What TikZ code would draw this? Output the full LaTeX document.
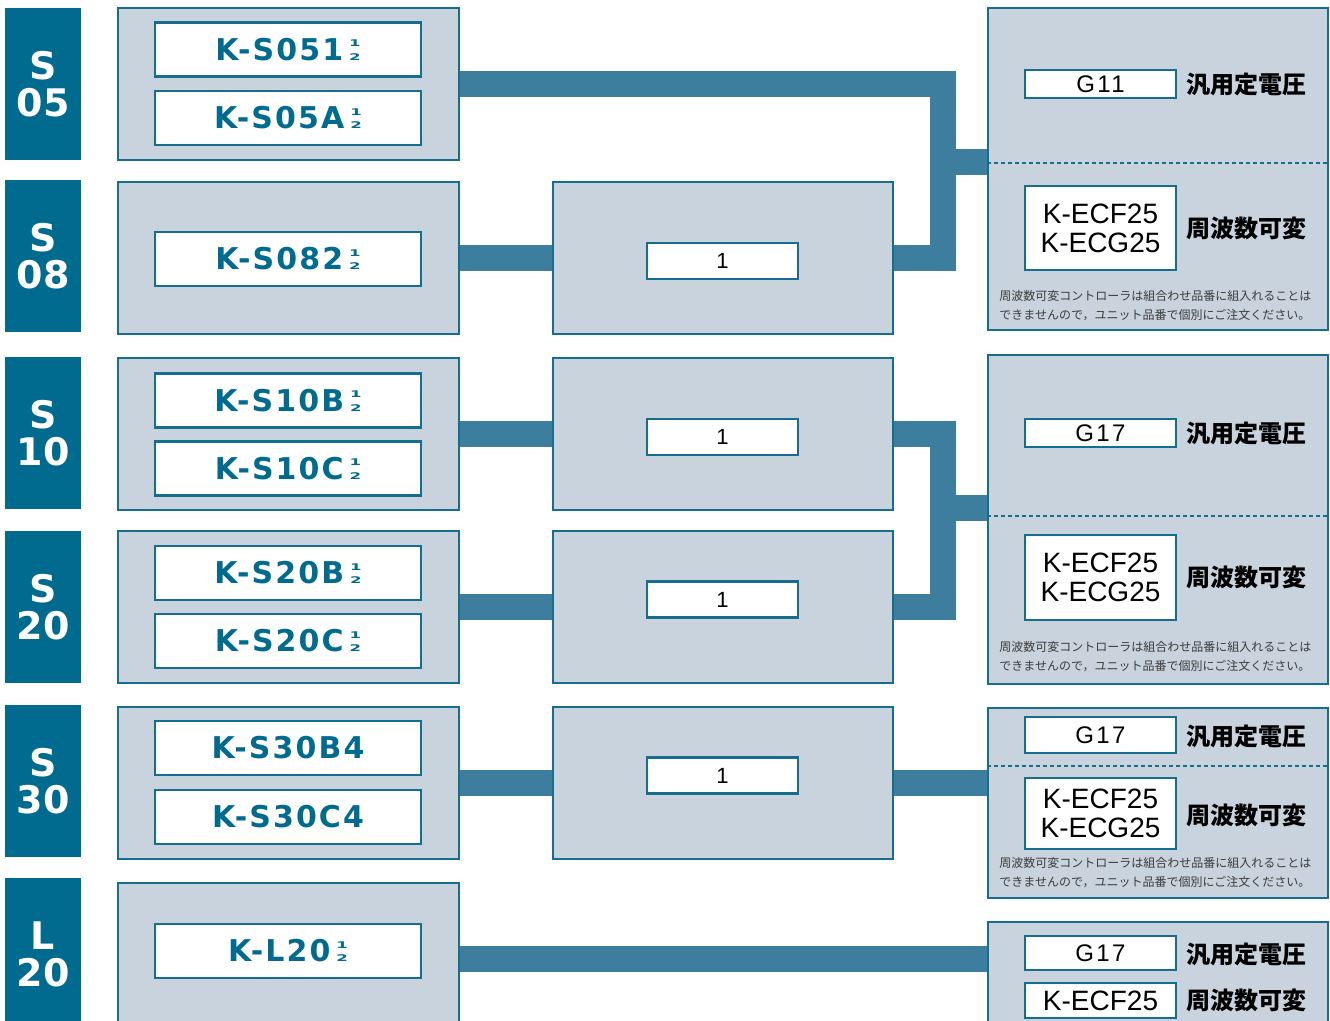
\documentclass[tikz,border=0pt]{standalone}
\usepackage{graphicx}
\usepackage{fontspec}
\setmainfont{Liberation Sans}
\newfontfamily\partfont{DejaVu Sans}[LetterSpace=7]
\newfontfamily\tabfont{DejaVu Sans}
\newfontfamily\spacedfont{Liberation Sans}[LetterSpace=10]
\newfontfamily\jpfont{Noto Sans CJK JP}
\usetikzlibrary{positioning, backgrounds}
\definecolor{tabblue}{RGB}{0, 107, 142}
\definecolor{edgeblue}{RGB}{22, 110, 142}
\definecolor{panelgray}{RGB}{200, 211, 222}
\definecolor{barblue}{RGB}{61, 126, 158}
\definecolor{notegray}{RGB}{60, 60, 60}
\newcommand{\halfmark}{\hspace{3pt}\scalebox{1.8}[1]{\tabfont\bfseries\fontsize{4.6}{4.6}\selectfont\shortstack{1\\[0.3pt]2}}}
\tikzset{
    tabbox/.style={fill=tabblue, text=white, font=\tabfont\bfseries\fontsize{19}{18.5}\selectfont, minimum width=38pt, minimum height=76pt, align=center, inner sep=0pt},
    grpbox/.style={draw=edgeblue, fill=panelgray, line width=1pt, minimum width=170.5pt, minimum height=76pt, inner sep=0pt},
    partbox/.style={draw=edgeblue, fill=white, line width=1.2pt, minimum width=133pt, minimum height=27pt, inner sep=0pt, text=tabblue, font=\partfont\bfseries\fontsize{15}{15}\selectfont},
    unitbox/.style={draw=edgeblue, fill=white, line width=1.2pt, minimum width=75.5pt, minimum height=18pt, inner sep=0pt, font=\fontsize{11}{11}\selectfont},
    ctrlbox/.style={draw=edgeblue, fill=white, line width=1.2pt, minimum width=75.5pt, inner sep=0pt, align=center, font=\fontsize{14}{14.5}\selectfont},
    gbox/.style={ctrlbox, font=\spacedfont\fontsize{12}{12}\selectfont},
    jplabel/.style={font=\jpfont\bfseries\fontsize{12}{12}\selectfont, inner sep=0pt},
    note/.style={font=\jpfont\fontsize{6}{9.5}\selectfont, text=notegray, align=left, inner sep=0pt, anchor=west},
    divline/.style={draw=edgeblue, line width=0.8pt, dash pattern=on 2pt off 1.5pt},
    bar/.style={draw=barblue, line width=13pt},
}
\begin{document}
\begin{tikzpicture}[x=0.5pt, y=-0.5pt]
\path[use as bounding box, clip] (0,0) rectangle (1330,1021);
% series tabs
\node[tabbox] (t05) at (43,84) {S\\05};
\node[tabbox] (t08) at (43,256) {S\\08};
\node[tabbox] (t10) at (43,433.5) {S\\10};
\node[tabbox] (t20) at (43,607.5) {S\\20};
\node[tabbox] (t30) at (43,781.5) {S\\30};
\node[tabbox] (tl20) at (43,954) {L\\20};
% unit groups
\node[grpbox] (g05) at (288.5,84) {};
\node[grpbox] (g08) at (288.5,258) {};
\node[grpbox] (g10) at (288.5,434) {};
\node[grpbox] (g20) at (288.5,607.5) {};
\node[grpbox] (g30) at (288.5,783) {};
\node[grpbox] (gl20) at (288.5,959) {};
\node[partbox] (p051) at (288,49.5) {K-S051\halfmark};
\node[partbox] (p05a) at (288,118) {K-S05A\halfmark};
\node[partbox] (p082) at (288,259) {K-S082\halfmark};
\node[partbox] (p10b) at (288,400.5) {K-S10B\halfmark};
\node[partbox] (p10c) at (288,468.5) {K-S10C\halfmark};
\node[partbox] (p20b) at (288,573) {K-S20B\halfmark};
\node[partbox] (p20c) at (288,641) {K-S20C\halfmark};
\node[partbox] (p30b) at (288,748) {K-S30B4};
\node[partbox] (p30c) at (288,817) {K-S30C4};
\node[partbox] (pl20) at (288,951) {K-L20\halfmark};
% middle units
\node[grpbox, minimum width=170pt] (m08) at (723,258) {};
\node[grpbox, minimum width=170pt] (m10) at (723,434) {};
\node[grpbox, minimum width=170pt] (m20) at (723,607.5) {};
\node[grpbox, minimum width=170pt] (m30) at (723,783) {};
\node[unitbox] (u08) at (722.5,261) {1};
\node[unitbox] (u10) at (722.5,437) {1};
\node[unitbox] (u20) at (722.5,599.5) {1};
\node[unitbox] (u30) at (722.5,775.5) {1};
% controllers
\node[grpbox, minimum width=170pt, minimum height=161pt] (rA) at (1158,169) {};
\node[grpbox, minimum width=170pt, minimum height=164.5pt] (rB) at (1158,519.5) {};
\node[grpbox, minimum width=170pt, minimum height=95pt] (rC) at (1158,803) {};
\node[grpbox, minimum width=170pt, minimum height=69pt] (rD) at (1158,991) {};
\draw[divline] (rA.west |- 0,163) -- (rA.east |- 0,163);
\draw[divline] (rB.west |- 0,516) -- (rB.east |- 0,516);
\draw[divline] (rC.west |- 0,766) -- (rC.east |- 0,766);
\node[gbox, minimum height=14pt] (cA1) at (1100.5,84) {G11};
\node[ctrlbox, minimum height=42pt] (cA2) at (1100.5,228) {K-ECF25\\K-ECG25};
\node[gbox, minimum height=14pt] (cB1) at (1100.5,433) {G17};
\node[ctrlbox, minimum height=42.5pt] (cB2) at (1100.5,577.5) {K-ECF25\\K-ECG25};
\node[gbox, minimum height=18pt] (cC1) at (1100.5,735) {G17};
\node[ctrlbox, minimum height=35.5pt] (cC2) at (1100.5,813.5) {K-ECF25\\K-ECG25};
\node[gbox, minimum height=17pt] (cD1) at (1100.5,953) {G17};
\node[ctrlbox, minimum height=17.5pt] (cD2) at (1100.5,1000.5) {K-ECF25};
\node[jplabel] (jA1) at (1246,84) {汎用定電圧};
\node[jplabel] (jA2) at (1246,228) {周波数可変};
\node[jplabel] (jB1) at (1246,433) {汎用定電圧};
\node[jplabel] (jB2) at (1246,577) {周波数可変};
\node[jplabel] (jC1) at (1246,736) {汎用定電圧};
\node[jplabel] (jC2) at (1246,815) {周波数可変};
\node[jplabel] (jD1) at (1246,954) {汎用定電圧};
\node[jplabel] (jD2) at (1246,1000) {周波数可変};
\node[note] (nA) at (999,305.5) {周波数可変コントローラは組合わせ品番に組入れることは\\できませんので，ユニット品番で個別にご注文ください。};
\node[note] (nB) at (999,656.5) {周波数可変コントローラは組合わせ品番に組入れることは\\できませんので，ユニット品番で個別にご注文ください。};
\node[note] (nC) at (999,872.5) {周波数可変コントローラは組合わせ品番に組入れることは\\できませんので，ユニット品番で個別にご注文ください。};
% connecting bars
\begin{scope}[on background layer]
\coordinate (jA) at (943,162);
\coordinate (jB) at (943,508);
\draw[bar] (g05.east) -| (jA) |- (m08.east);
\draw[bar] (jA) -- (jA -| rA.west);
\draw[bar] (g08.east) -- (m08.west);
\draw[bar] (m10.east) -| (jB) |- (m20.east);
\draw[bar] (jB) -- (jB -| rB.west);
\draw[bar] (g10.east) -- (m10.west);
\draw[bar] (g20.east) -- (m20.west);
\draw[bar] (g30.east) -- (m30.west);
\draw[bar] (m30.east) -- (m30.east -| rC.west);
\draw[bar] (gl20.east) -- (gl20.east -| rD.west);
\end{scope}
\end{tikzpicture}
\end{document}
